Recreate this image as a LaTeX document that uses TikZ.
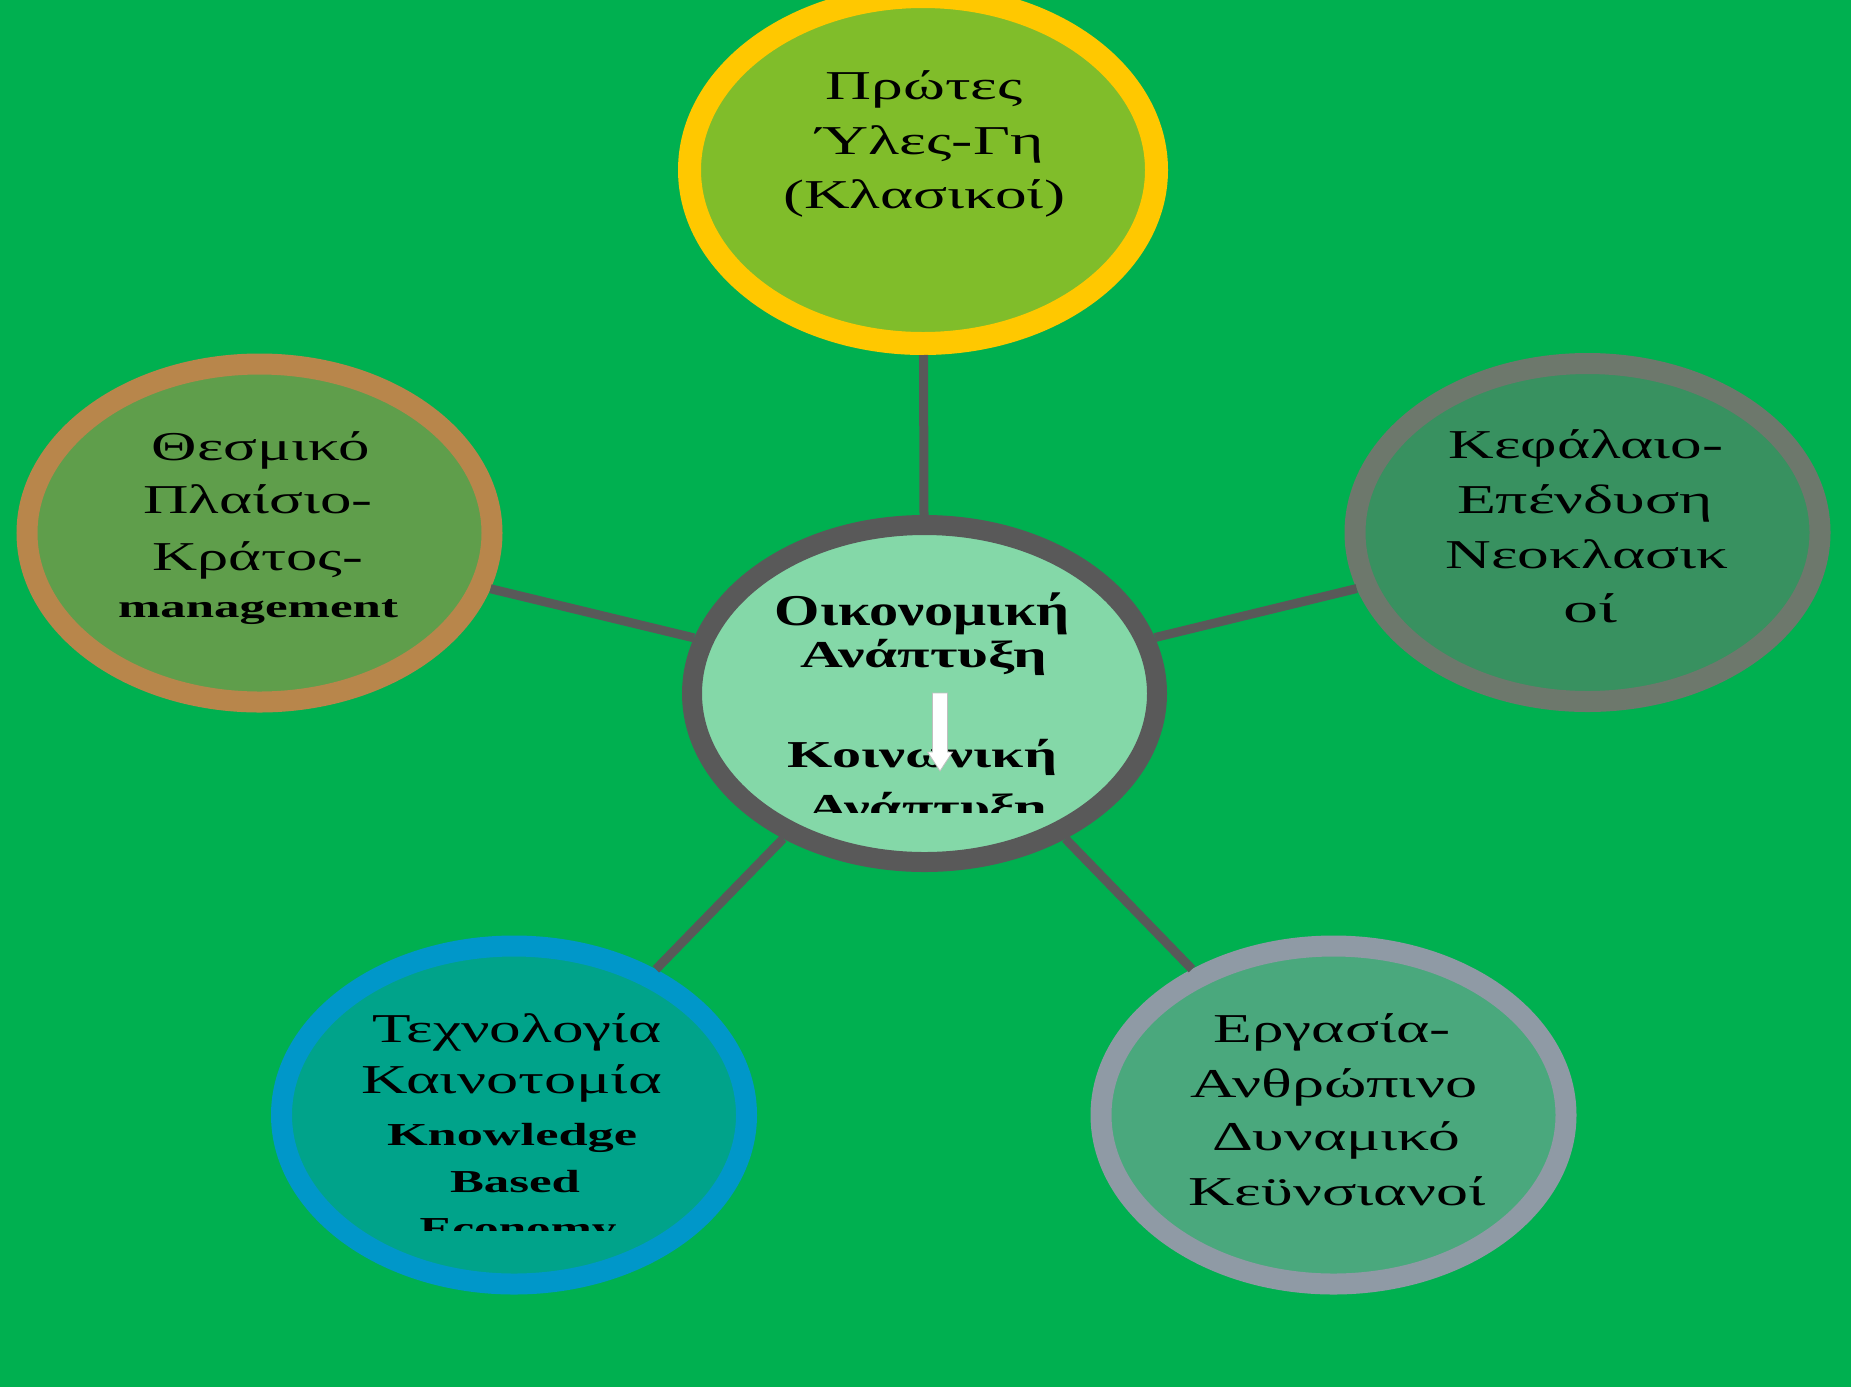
\documentclass[tikz,border=0pt]{standalone}
\usepackage{fontspec}
\setmainfont{Liberation Serif}
\usepackage{graphicx}
\usetikzlibrary{shapes.geometric}
\newcommand\stretchto[2]{\resizebox{#1}{\height}{#2}}
\definecolor{bggreen}{HTML}{00B050}
\definecolor{linkgray}{HTML}{595959}
\definecolor{topfill}{HTML}{80BD2A}
\definecolor{topline}{HTML}{FFC800}
\definecolor{cfill}{HTML}{84D8A8}
\definecolor{cline}{HTML}{595959}
\definecolor{lfill}{HTML}{5F9E4B}
\definecolor{lline}{HTML}{B8864B}
\definecolor{rfill}{HTML}{389160}
\definecolor{rline}{HTML}{6D786C}
\definecolor{blfill}{HTML}{00A38A}
\definecolor{blline}{HTML}{0097C9}
\definecolor{brfill}{HTML}{4AA87D}
\definecolor{brline}{HTML}{8F9AA5}
\tikzset{
  bubble/.style={ellipse, inner sep=0pt, minimum width=232.5pt, minimum height=169pt, line width=10.5pt},
  link/.style={draw=linkgray, line width=4.5pt},
  txt/.style={anchor=base, inner sep=0pt, font=\fontsize{20.5pt}{27pt}\selectfont},
  txtb/.style={anchor=base, inner sep=0pt, font=\fontsize{16pt}{19pt}\selectfont\bfseries},
  ctr/.style={anchor=base, inner sep=0pt, font=\fontsize{19pt}{22pt}\selectfont\bfseries},
}
\begin{document}
\begin{tikzpicture}[x=0.5pt,y=-0.5pt]
\useasboundingbox (0,0) rectangle (1851,1387);
\fill[bggreen] (0,0) rectangle (1851,1387);

% bubbles
\node[bubble, fill=topfill, draw=topline, line width=11.5pt, minimum width=233.5pt, minimum height=173.5pt] (t) at (923,170) {};
\node[bubble, fill=cfill, draw=cline, line width=10pt, minimum height=168.5pt] (c) at (924.5,693.5) {};
\node[bubble, fill=lfill, draw=lline] (l) at (259.5,533) {};
\node[bubble, fill=rfill, draw=rline] (r) at (1587.5,532.5) {};
\node[bubble, fill=blfill, draw=blline] (bl) at (514,1115) {};
\node[bubble, fill=brfill, draw=brline] (br) at (1333.5,1115) {};

% connectors
\draw[link] (c) -- (t);
\draw[link] (c) -- (l);
\draw[link] (c) -- (r);
\draw[link] (c) -- (bl);
\draw[link] (c) -- (br);

% top text
\node[txt] (t1) at (924,99) {\stretchto{98.5pt}{Πρώτες}};
\node[txt] (t2) at (930,154) {\stretchto{113.5pt}{Ύλες-Γη}};
\node[txt] (t3) at (924,208) {\stretchto{141pt}{(Κλασικοί)}};

% left text
\node[txt] (l1) at (261,460) {\stretchto{109pt}{Θεσμικό}};
\node[txt] (l2) at (258,513) {\stretchto{114.5pt}{Πλαίσιο-}};
\node[txt] (l3) at (258,570) {\stretchto{105.5pt}{Κράτος-}};
\node[txtb] (l4) at (258,617) {\stretchto{140pt}{management}};

% right text
\node[txt] (r1) at (1586,458) {\stretchto{137.5pt}{Κεφάλαιο-}};
\node[txt] (r2) at (1585,513) {\stretchto{128pt}{Επένδυση}};
\node[txt] (r3) at (1587,568) {\stretchto{141.5pt}{Νεοκλασικ}};
\node[txt] (r4) at (1590,622) {\stretchto{27pt}{οί}};

% bottom right text
\node[txt] (br1) at (1332,1042) {\stretchto{118.5pt}{Εργασία-}};
\node[txt] (br2) at (1334,1097) {\stretchto{143.5pt}{Ανθρώπινο}};
\node[txt] (br3) at (1336,1150) {\stretchto{124pt}{Δυναμικό}};
\node[txt] (br4) at (1337,1205) {\stretchto{148.5pt}{Κεϋνσιανοί}};

% bottom left text
\node[txt] (bl1) at (517,1042) {\stretchto{144.5pt}{Τεχνολογία}};
\node[txt] (bl2) at (512,1093) {\stretchto{150pt}{Καινοτομία}};
\node[txtb] (bl3) at (512,1145) {\stretchto{125pt}{Knowledge}};
\node[txtb] (bl4) at (515,1192) {\stretchto{65pt}{Based}};
\begin{scope}
  \clip (350,1200) rectangle (700,1230);
  \node[txtb] (bl5) at (518,1239) {\stretchto{98.5pt}{Economy}};
\end{scope}

% centre text
\node[ctr, font=\fontsize{22pt}{26pt}\selectfont\bfseries] (c1) at (922.5,625) {\stretchto{147.5pt}{Οικονομική}};
\node[ctr] (c2) at (923.5,667) {\stretchto{123.5pt}{Ανάπτυξη}};
\node[ctr] (c3) at (922.5,767) {\stretchto{134.5pt}{Κοινωνική}};
\begin{scope}
  \clip (750,775) rectangle (1100,812);
  \node[ctr] (c4) at (927,820) {\stretchto{120pt}{Ανάπτυξη}};
\end{scope}

% white block arrow
\filldraw[fill=white, draw=gray!50, line width=0.4pt]
  (932.5,693) -- (947.5,693) -- (947.5,752) -- (952.5,752) -- (940,771)
  -- (927.5,752) -- (932.5,752) -- cycle;
\end{tikzpicture}
\end{document}
